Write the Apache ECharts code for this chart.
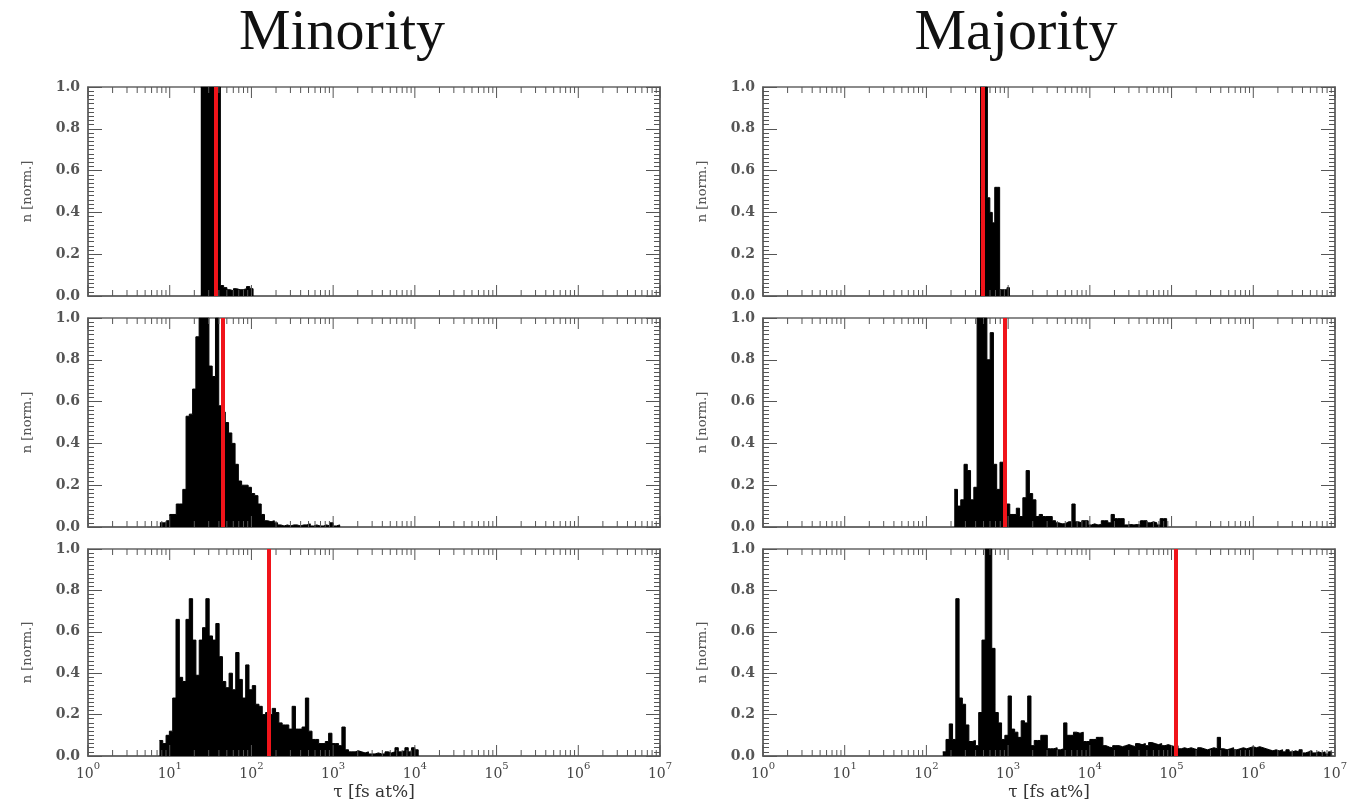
<!DOCTYPE html>
<html style="height: 100%">
<head>
  <meta charset="utf-8">
</head>
<body style="height: 100%; margin: 0; background: #fff">
  <div id="container" style="width: 1350px; height: 802px"></div>

  <script type="text/javascript" src="https://cdn.jsdelivr.net/npm/echarts@6/dist/echarts.min.js"></script>
  <script type="text/javascript">
    // histograms: bin heights (normalised), first bin edge as log10(tau), bin width in decades
    var minorityTop = [1, 1, 1, 1, 1, 1, 0.05, 0.04, 0.03, 0.025, 0.035, 0.03, 0.03, 0.035, 0.045, 0.035];
    var minorityMid = [0.02, 0.02, 0.03, 0.06, 0.06, 0.11, 0.11, 0.18, 0.53, 0.54, 0.66, 0.91, 1, 1, 1, 0.77, 0.72, 1, 0.58, 0.55,
      0.50, 0.45, 0.40, 0.30, 0.22, 0.20, 0.20, 0.19, 0.16, 0.15, 0.11, 0.06, 0.03, 0.025, 0.03, 0.02, 0.01, 0.005, 0.01, 0.005,
      0.01, 0.01, 0.005, 0.01, 0.01, 0.015, 0.005, 0.01, 0.005, 0.005, 0.01, 0.005, 0.02, 0.005, 0.01];
    var minorityBot = [0.075, 0.06, 0.10, 0.12, 0.28, 0.66, 0.38, 0.36, 0.66, 0.76,
      0.56, 0.39, 0.56, 0.62, 0.76, 0.58, 0.56, 0.64, 0.48, 0.36,
      0.33, 0.40, 0.32, 0.50, 0.37, 0.28, 0.44, 0.32, 0.34, 0.25,
      0.24, 0.20, 0.21, 0.20, 0.23, 0.21, 0.16, 0.15, 0.15, 0.13,
      0.24, 0.13, 0.13, 0.14, 0.28, 0.12, 0.08, 0.08, 0.06, 0.06,
      0.07, 0.11, 0.06, 0.06, 0.05, 0.14, 0.03, 0.02, 0.02, 0.025,
      0.02, 0.015, 0.02, 0.01, 0.01, 0.015, 0.01, 0.01, 0.02, 0.015,
      0.02, 0.04, 0.02, 0.025, 0.04, 0.02, 0.04, 0.03];
    var majorityTop = [1, 1, 1, 0.47, 0.40, 0.35, 0.52, 0.52, 0.03, 0.03, 0.03, 0.04];
    var majorityMid = [0.18, 0.10, 0.13, 0.30, 0.27, 0.13, 0.19, 1, 1, 1,
      0.80, 0.93, 0.30, 0.18, 0.31, 0.10, 0.11, 0.06, 0.06, 0.09,
      0.05, 0.14, 0.27, 0.16, 0.13, 0.05, 0.06, 0.05, 0.05, 0.05,
      0.03, 0.02, 0.015, 0.016, 0.025, 0.025, 0.11, 0.025, 0.02, 0.03,
      0.03, 0.01, 0.015, 0.01, 0.012, 0.03, 0.03, 0.02, 0.06, 0.04,
      0.04, 0.04, 0.01, 0.012, 0.01, 0.012, 0.01, 0.03, 0.03, 0.02,
      0.025, 0.02, 0.01, 0.04, 0.04];
    var majorityBot = [0.02, 0.08, 0.155, 0.08, 0.76, 0.28, 0.25, 0.15, 0.07, 0.075,
      0.05, 0.21, 0.56, 1, 1, 0.52, 0.21, 0.16, 0.08, 0.10,
      0.29, 0.13, 0.115, 0.09, 0.17, 0.16, 0.29, 0.05, 0.075, 0.075,
      0.10, 0.10, 0.035, 0.035, 0.04, 0.03, 0.035, 0.16, 0.10, 0.10,
      0.115, 0.11, 0.115, 0.07, 0.07, 0.08, 0.08, 0.09, 0.09, 0.05,
      0.043, 0.04, 0.05, 0.05, 0.045, 0.05, 0.055, 0.05, 0.045, 0.06,
      0.055, 0.06, 0.05, 0.065, 0.06, 0.055, 0.06, 0.05, 0.055, 0.05,
      0.045, 0.05, 0.035, 0.04, 0.035, 0.04, 0.035, 0.03, 0.04, 0.035,
      0.03, 0.035, 0.04, 0.035, 0.09, 0.035, 0.03, 0.035, 0.04, 0.03,
      0.035, 0.04, 0.035, 0.04, 0.045, 0.04, 0.045, 0.04, 0.035, 0.03,
      0.025, 0.03, 0.025, 0.03, 0.02, 0.03, 0.02, 0.025, 0.02, 0.03,
      0.015, 0.02, 0.025, 0.015, 0.02, 0.015, 0.02, 0.01, 0.02];

    var panels = [minorityTop, minorityMid, minorityBot, majorityTop, majorityMid, majorityBot];
    var binStart = [1.38, 0.88, 0.874, 2.656, 2.34, 2.20];
    var binWidth = [0.04, 0.04, 0.0406, 0.03, 0.04, 0.04];
    // mean tau (red lines)
    var meanTau = [37, 45, 161, 484, 916, 113500];

    var columnTitles = ['Minority', 'Majority'];
    var xName = 'τ [fs at%]';
    var yName = 'n [norm.]';

    var dom = document.getElementById('container');
    var myChart = echarts.init(dom);

    var gridLeft = [88, 763];
    var gridTop = [87, 318, 549];
    var serif = 'DejaVu Serif';

    // tick marks of the log axes (2..9 minor ticks per decade, on top and bottom)
    var tickData = [];
    for (var e = 0; e <= 7; e++) {
      tickData.push([Math.pow(10, e), 0, 11]);
      if (e < 7) {
        for (var m = 2; m <= 9; m++) tickData.push([m * Math.pow(10, e), 0, 6]);
      }
    }

    function renderTick(params, api) {
      var v = api.value(0), len = api.value(2);
      var b = api.coord([v, 0]), t = api.coord([v, 1]);
      var st = { stroke: '#555', lineWidth: 1 };
      return {
        type: 'group',
        children: [
          { type: 'line', shape: { x1: b[0], y1: b[1], x2: b[0], y2: b[1] - len }, style: st },
          { type: 'line', shape: { x1: t[0], y1: t[1], x2: t[0], y2: t[1] + len }, style: st }
        ]
      };
    }

    var grids = [], xAxes = [], yAxes = [], series = [];
    for (var k = 0; k < panels.length; k++) {
      var col = Math.floor(k / 3), row = k % 3;
      grids.push({
        left: gridLeft[col], top: gridTop[row], width: 572, height: 209,
        show: true, borderColor: '#666', borderWidth: 1.5
      });
      xAxes.push({
        gridIndex: k, type: 'log', logBase: 10, min: 1, max: 1e7,
        axisLine: { show: true, lineStyle: { color: '#666', width: 1.5 } },
        axisTick: { show: false },
        splitLine: { show: false },
        axisLabel: {
          show: row === 2, margin: 5,
          formatter: function (v) {
            return '{b|10}{s|' + Math.round(Math.log10(v)) + '}';
          },
          rich: {
            b: { fontFamily: serif, fontSize: 14, color: '#444', verticalAlign: 'bottom', lineHeight: 20 },
            s: { fontFamily: serif, fontSize: 10, color: '#444', verticalAlign: 'top', lineHeight: 20 }
          }
        },
        name: row === 2 ? xName : '',
        nameLocation: 'middle', nameGap: 28,
        nameTextStyle: { fontFamily: serif, fontSize: 17, color: '#333' }
      });
      var yCommon = {
        gridIndex: k, type: 'value', min: 0, max: 1, interval: 0.2,
        axisLine: { show: true, lineStyle: { color: '#666', width: 1.5 } },
        axisTick: { show: true, inside: true, length: 14, lineStyle: { color: '#555' } },
        minorTick: { show: true, splitNumber: 10, length: 6, lineStyle: { color: '#555' } },
        splitLine: { show: false }
      };
      yAxes.push(Object.assign({}, yCommon, {
        position: 'left',
        axisLabel: {
          margin: 8, fontFamily: serif, fontSize: 14, fontWeight: 'bold', color: '#555',
          formatter: function (v) { return v.toFixed(1); }
        },
        name: yName, nameLocation: 'middle', nameGap: 54,
        nameTextStyle: { fontFamily: serif, fontSize: 13, color: '#555' }
      }));
      yAxes.push(Object.assign({}, yCommon, {
        position: 'right',
        axisLabel: { show: false }
      }));

      var vals = panels[k], pts = [];
      for (var i = 0; i < vals.length; i++) {
        pts.push([Math.pow(10, binStart[k] + i * binWidth[k]), vals[i]]);
      }
      pts.push([Math.pow(10, binStart[k] + vals.length * binWidth[k]), 0]);

      series.push({
        type: 'line', xAxisIndex: k, yAxisIndex: 2 * k,
        step: 'end', symbol: 'none', silent: true, z: 2,
        lineStyle: { color: '#000', width: 1 },
        areaStyle: { color: '#000', opacity: 1 },
        data: pts,
        markLine: {
          silent: true, symbol: 'none', animation: false,
          label: { show: false },
          lineStyle: { color: '#f0141a', width: 4, type: 'solid' },
          data: [{ xAxis: meanTau[k] }]
        }
      });
      series.push({
        type: 'custom', xAxisIndex: k, yAxisIndex: 2 * k,
        renderItem: renderTick, silent: true, z: 3,
        encode: { x: 0, y: 1 },
        data: tickData
      });
    }

    var option = {
      animation: false,
      backgroundColor: '#fff',
      grid: grids,
      xAxis: xAxes,
      yAxis: yAxes,
      series: series,
      graphic: [
        { type: 'text', x: 342, y: 5, style: { text: columnTitles[0], fontFamily: 'Liberation Serif', fontSize: 58, fill: '#111', align: 'center', verticalAlign: 'top' } },
        { type: 'text', x: 1016, y: 5, style: { text: columnTitles[1], fontFamily: 'Liberation Serif', fontSize: 58, fill: '#111', align: 'center', verticalAlign: 'top' } }
      ]
    };

    if (option && typeof option === 'object') {
      myChart.setOption(option);
    }
  </script>
</body>
</html>
